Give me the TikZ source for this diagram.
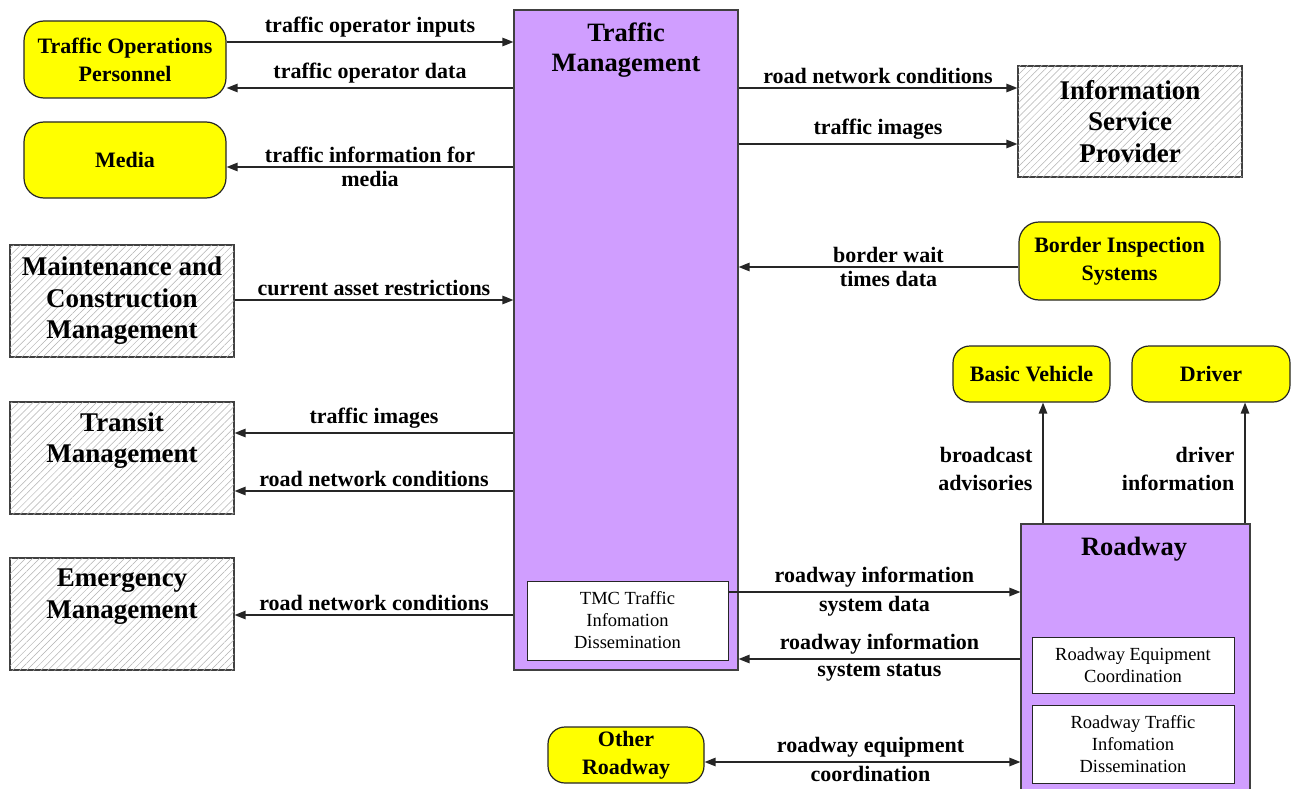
\documentclass[tikz,border=0pt]{standalone}
\usepackage{fontspec}
\setmainfont{Liberation Serif}
\usetikzlibrary{arrows.meta,patterns.meta}
\definecolor{tmpurple}{HTML}{D09EFF}
\definecolor{yel}{HTML}{FFFF00}
\begin{document}
\begin{tikzpicture}[x=1pt,y=-1pt,
 term/.style={draw=black!85, line width=1.2pt, fill=yel, rounded corners=20pt, inner sep=0pt, align=center, font=\bfseries\fontsize{22}{28}\selectfont},
 hatch/.style={draw=black!75, line width=1.2pt, inner sep=0pt, align=center, fill=white, postaction={pattern={Lines[angle=45,distance=5pt,line width=0.5pt]}, pattern color=black!30}, font=\bfseries\fontsize{27}{31.5}\selectfont},
 sys/.style={draw=black!75, line width=1.2pt, fill=tmpurple, inner sep=0pt},
 title/.style={align=center, font=\bfseries\fontsize{26.5}{30}\selectfont, inner sep=0pt},
 inbox/.style={draw=black!85, line width=1pt, fill=white, inner sep=0pt, align=center, font=\fontsize{18.5}{22}\selectfont},
 arr/.style={line width=1.3pt, draw=black!85, -{Triangle[length=11pt,width=8.5pt]}},
 dblarr/.style={line width=1.3pt, draw=black!85, {Triangle[length=11pt,width=8.5pt]}-{Triangle[length=11pt,width=8.5pt]}},
 lab/.style={font=\bfseries\fontsize{22}{28}\selectfont, inner sep=4pt}
]
\useasboundingbox (0,0) rectangle (1292,789);
\clip (0,0) rectangle (1292,789);

% Traffic Management
\node[sys, minimum width=224pt, minimum height=660pt] (tm) at (626,340) {};
\node[title] (tmt) at (626,50) {Traffic\\Management};
\node[inbox, minimum width=201pt, minimum height=79pt] (tmc) at (627.5,620.5) {TMC Traffic\\Infomation\\Dissemination};

% left side
\node[term, minimum width=202pt, minimum height=77pt] (top) at (125,59.5) {Traffic Operations\\Personnel};
\node[term, minimum width=202pt, minimum height=76pt] (media) at (125,160) {Media};
\node[hatch, minimum width=224pt, minimum height=112pt] (mcm) at (122,301) {Maintenance and\\Construction\\Management};
\node[hatch, minimum width=224pt, minimum height=112pt] (trm) at (122,458) {Transit\\Management\\[0pt]\strut};
\node[hatch, minimum width=224pt, minimum height=112pt] (em) at (122,614) {Emergency\\Management\\[0pt]\strut};

% right side
\node[hatch, minimum width=224pt, minimum height=111pt] (isp) at (1130,121.5) {Information\\Service\\Provider};
\node[term, minimum width=201pt, minimum height=78pt] (bis) at (1119.5,261) {Border Inspection\\Systems};
\node[term, rounded corners=17pt, minimum width=157pt, minimum height=56pt] (bv) at (1031.5,374) {Basic Vehicle};
\node[term, rounded corners=17pt, minimum width=158pt, minimum height=56pt] (drv) at (1211,374) {Driver};
\node[sys, minimum width=229pt, minimum height=276pt] (rw) at (1135.5,662) {};
\node[title] (rwt) at (1134,549) {Roadway};
\node[inbox, minimum width=202pt, minimum height=56pt] (rec) at (1133,665) {Roadway Equipment\\Coordination};
\node[inbox, minimum width=202pt, minimum height=78pt] (rtid) at (1133,744) {Roadway Traffic\\Infomation\\Dissemination};
\node[term, rounded corners=17pt, minimum width=156pt, minimum height=56pt] (orw) at (626,755) {Other\\Roadway};

% connectors left
\draw[arr] (top.east |- 0,42) -- node[lab, above] {traffic operator inputs} (tm.west |- 0,42);
\draw[arr] (tm.west |- 0,88) -- node[lab, above] {traffic operator data} (top.east |- 0,88);
\draw[arr] (tm.west |- 0,167) -- node[lab, above] {traffic information for} node[lab, below] {media} (media.east |- 0,167);
\draw[arr] (mcm.east |- 0,300) -- node[lab, above] {current asset restrictions} (tm.west |- 0,300);
\draw[arr] (tm.west |- 0,433) -- node[lab, above] {traffic images} (trm.east |- 0,433);
\draw[arr] (tm.west |- 0,491) -- node[lab, above] {road network conditions} (trm.east |- 0,491);
\draw[arr] (tm.west |- 0,615) -- node[lab, above] {road network conditions} (em.east |- 0,615);

% connectors right
\draw[arr] (tm.east |- 0,88) -- node[lab, above] {road network conditions} (isp.west |- 0,88);
\draw[arr] (tm.east |- 0,144) -- node[lab, above] {traffic images} (isp.west |- 0,144);
\draw[arr] (bis.west |- 0,267) -- node[lab, above, xshift=10pt] {border wait} node[lab, below, xshift=10pt] {times data} (tm.east |- 0,267);
\draw[arr] (rw.north -| 1043,0) -- node[lab, left, align=right, yshift=-6pt, xshift=-6pt] {broadcast\\advisories} (bv.south -| 1043,0);
\draw[arr] (rw.north -| 1245,0) -- node[lab, left, align=right, yshift=-6pt, xshift=-6pt] {driver\\information} (drv.south -| 1245,0);
\draw[arr] (tmc.east |- 0,592) -- node[lab, above] {roadway information} node[lab, below] {system data} (rw.west |- 0,592);
\draw[arr] (rw.west |- 0,659) -- node[lab, above] {roadway information} node[lab, below] {system status} (tm.east |- 0,659);
\draw[dblarr] (orw.east |- 0,762) -- node[lab, above, xshift=8pt] {roadway equipment} node[lab, below, xshift=8pt] {coordination} (rw.west |- 0,762);
\end{tikzpicture}
\end{document}
